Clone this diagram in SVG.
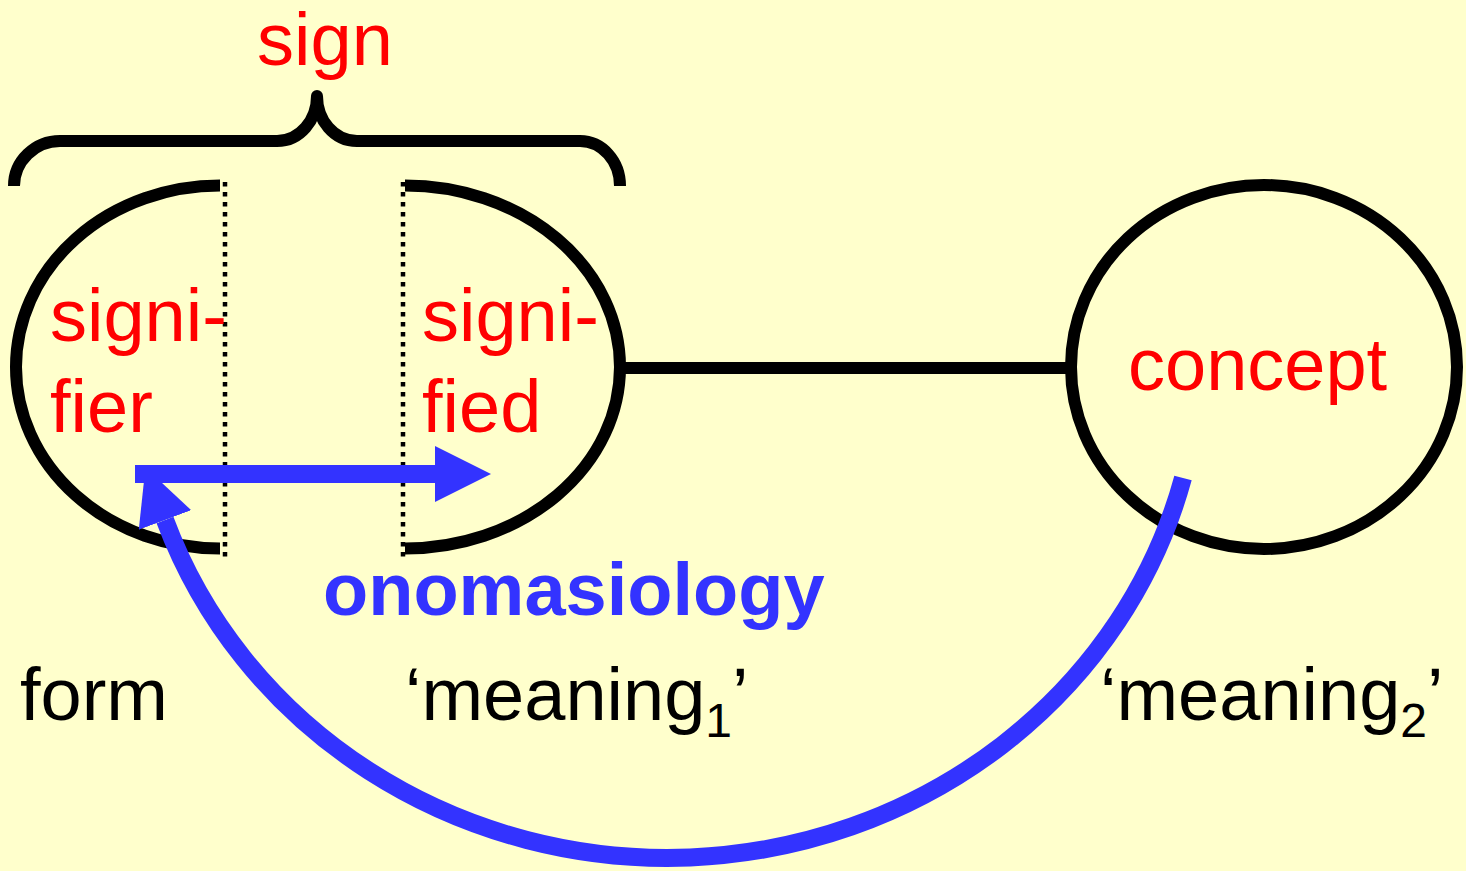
<svg xmlns="http://www.w3.org/2000/svg" width="1466" height="871" viewBox="0 0 1466 871">
<style>
.bg{fill:#FFFFCC}
.ln{fill:none;stroke:#000;stroke-width:12}
.dot{fill:none;stroke:#000;stroke-width:4.5;stroke-dasharray:4.5 5.5}
.blue{fill:none;stroke:#3333FF;stroke-width:18}
.t{font-family:"Liberation Sans",Arial,sans-serif;font-size:74px}
.red{fill:#FF0000}
.blk{fill:#000}
.bl{fill:#3333FF;font-weight:bold}
.sub{font-size:48px}
</style>
<defs>
<marker id="ah" markerUnits="userSpaceOnUse" markerWidth="56" markerHeight="56" refX="0" refY="28" orient="auto" viewBox="0 0 56 56">
<path d="M0,0 L56,28 L0,56 z" fill="#3333FF"/>
</marker>
</defs>
<rect class="bg" x="0" y="0" width="1466" height="871"/>
<g id="brace">
<path class="ln" stroke-width="13" stroke-linejoin="round" d="M14,186 C14,161 35,141 60,141 L277,141 C300,141 317,120 317,96 C317,120 334,141 357,141 L580,141 C602,141 620,161 620,186"/>
<text class="t red" x="325" y="65" text-anchor="middle">sign</text>
</g>
<g id="signifier">
<path class="ln" d="M220,185.5 A204,181.5 0 0 0 220,548.5"/>
<line class="dot" x1="225" y1="182" x2="225" y2="558"/>
<text class="t red" x="50" y="341">signi-</text>
<text class="t red" x="50" y="432">fier</text>
</g>
<g id="signified">
<path class="ln" d="M405,185.5 A215,181.5 0 0 1 405,548.5"/>
<line class="dot" x1="403" y1="182" x2="403" y2="558"/>
<text class="t red" x="422" y="341">signi-</text>
<text class="t red" x="422" y="432">fied</text>
</g>
<g id="concept">
<ellipse class="ln" cx="1264" cy="367" rx="193" ry="182"/>
<text class="t red" x="1128" y="390">concept</text>
</g>
<g id="connectors">
<line class="ln" x1="620" y1="368" x2="1072" y2="368"/>
<path class="blue" d="M1183,478 A533,508 0 0 1 165,520" marker-end="url(#ah)"/>
<line class="blue" x1="135" y1="474" x2="435" y2="474" marker-end="url(#ah)"/>
</g>
<g id="labels">
<text class="t bl" x="323" y="615">onomasiology</text>
<text class="t blk" x="20" y="720">form</text>
<text class="t blk" x="405" y="720">‘meaning<tspan class="sub" dy="17">1</tspan><tspan dy="-17">’</tspan></text>
<text class="t blk" x="1100" y="720">‘meaning<tspan class="sub" dy="17">2</tspan><tspan dy="-17">’</tspan></text>
</g>
</svg>
